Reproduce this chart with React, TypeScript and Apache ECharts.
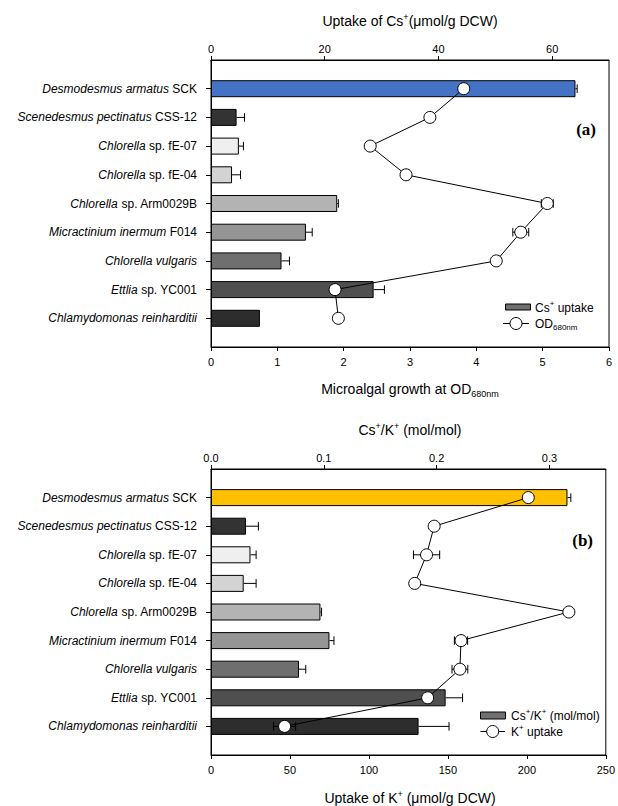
import React, { useEffect, useRef } from 'react';
import * as echarts from 'echarts';

// ---------- data ----------
const speciesItalic = [
  'Desmodesmus armatus',
  'Scenedesmus pectinatus',
  'Chlorella',
  'Chlorella',
  'Chlorella',
  'Micractinium inermum',
  'Chlorella vulgaris',
  'Ettlia',
  'Chlamydomonas reinharditii',
];
const speciesSuffix = ['SCK', 'CSS-12', 'sp. fE-07', 'sp. fE-04', 'sp. Arm0029B', 'F014', '', 'sp. YC001', ''];

// panel (a)
const csUptake = [64.1, 4.5, 4.9, 3.7, 22.2, 16.7, 12.4, 28.6, 8.6];
const csUptakeErr = [0.3, 1.4, 0.8, 1.5, 0.2, 1.1, 1.4, 1.9, 0];
const od680 = [3.81, 3.3, 2.4, 2.94, 5.07, 4.67, 4.3, 1.87, 1.92];
const od680Err = [0, 0, 0, 0, 0.09, 0.12, 0, 0, 0];

// panel (b)
const csKRatio = [0.316, 0.031, 0.035, 0.029, 0.097, 0.105, 0.078, 0.208, 0.184];
const csKRatioErr = [0.003, 0.011, 0.005, 0.011, 0.001, 0.004, 0.006, 0.015, 0.027];
const kUptake = [200.9, 141.3, 136.5, 129.0, 226.6, 158.3, 157.6, 137.2, 46.6];
const kUptakeErr = [0, 0, 8.3, 0, 0, 4.2, 5, 0, 7];

// axis ranges [min, max, interval]
const csAxis = [0, 70, 20];
const odAxis = [0, 6, 1];
const ratioAxis = [0, 0.35, 0.1];
const kAxis = [0, 250, 50];

const barColorsA = ['#4472c4', '#333333', '#efefef', '#d3d3d3', '#b3b3b3', '#959595', '#6f6f6f', '#4f4f4f', '#2d2d2d'];
const barColorsB = ['#ffc000', '#333333', '#efefef', '#d3d3d3', '#b3b3b3', '#959595', '#6f6f6f', '#4f4f4f', '#2d2d2d'];
const legendBarColor = '#707070';

// ---------- helpers ----------
const F = '"Liberation Sans", Arial, Helvetica, sans-serif';
const SERIF = '"Liberation Serif", "Times New Roman", serif';
const categories = ['', ...speciesItalic.map((s, i) => s + ' ' + speciesSuffix[i]), ''];

const GRID_LEFT = 211;
const GRID_WIDTH = 398;

const errRender = (both: boolean) => (params: any, api: any) => {
  const v = api.value(0);
  const idx = api.value(1);
  const e = api.value(2);
  if (!e) return null;
  const p0 = api.coord([both ? v - e : v, idx]);
  const p1 = api.coord([v + e, idx]);
  const h = 4.3;
  const st = { stroke: '#000', lineWidth: 1 };
  const children: any[] = [
    { type: 'line', shape: { x1: p0[0], y1: p0[1], x2: p1[0], y2: p1[1] }, style: st },
    { type: 'line', shape: { x1: p1[0], y1: p1[1] - h, x2: p1[0], y2: p1[1] + h }, style: st },
  ];
  if (both) children.push({ type: 'line', shape: { x1: p0[0], y1: p0[1] - h, x2: p0[0], y2: p0[1] + h }, style: st });
  return { type: 'group', children };
};

const richTitle = {
  a: { fontFamily: F, fontSize: 14, lineHeight: 18, fill: '#000' },
  s: { fontFamily: F, fontSize: 9, lineHeight: 9, verticalAlign: 'top', fill: '#000' },
  b: { fontFamily: F, fontSize: 9, lineHeight: 9, verticalAlign: 'bottom', fill: '#000' },
};
const richLegend = {
  a: { fontFamily: F, fontSize: 12, lineHeight: 16, fill: '#000' },
  s: { fontFamily: F, fontSize: 8, lineHeight: 8, verticalAlign: 'top', fill: '#000' },
  b: { fontFamily: F, fontSize: 8, lineHeight: 8, verticalAlign: 'bottom', fill: '#000' },
};

const txt = (x: number, y: number, text: string, rich: any, align = 'center') => ({
  type: 'text',
  x,
  y,
  style: { text, rich, textAlign: align, textVerticalAlign: 'middle', fill: '#000' },
});

function valueAxis(gi: number, pos: 'top' | 'bottom', ax: number[], fmt?: (v: number) => string) {
  return {
    type: 'value',
    gridIndex: gi,
    position: pos,
    min: ax[0],
    max: ax[1],
    interval: ax[2],
    splitLine: { show: false },
    axisLine: { show: true, lineStyle: { color: '#000', width: 1 } },
    axisTick: { show: true, inside: false, length: 4, lineStyle: { color: '#000' } },
    axisLabel: {
      show: true,
      showMaxLabel: pos === 'bottom',
      margin: pos === 'top' ? 6 : 9,
      fontFamily: F,
      fontSize: 11,
      color: '#000',
      formatter: fmt,
    },
  };
}

function catAxis(gi: number) {
  return {
    type: 'category',
    gridIndex: gi,
    data: categories,
    inverse: true,
    boundaryGap: false,
    axisLine: { show: true, lineStyle: { color: '#000', width: 1 } },
    axisTick: {
      show: true,
      length: 5,
      interval: (index: number) => index >= 1 && index <= 9,
      lineStyle: { color: '#000' },
    },
    splitLine: { show: false },
    axisLabel: {
      interval: 0,
      margin: 14,
      fontFamily: F,
      fontSize: 12,
      color: '#000',
      formatter: (value: string, index: number) => {
        const k = index - 1;
        if (k < 0 || k > 8) return '';
        const it = speciesItalic[k];
        const sf = speciesSuffix[k];
        return sf ? `{i|${it}}{n| ${sf}}` : `{i|${it}}`;
      },
      rich: {
        i: { fontStyle: 'italic', fontFamily: F, fontSize: 12, color: '#000' },
        n: { fontFamily: F, fontSize: 12, color: '#000' },
      },
    },
  };
}

const pad = (vals: number[], colors: string[]) => [
  '-',
  ...vals.map((v, i) => ({ value: v, itemStyle: { color: colors[i], borderColor: '#000', borderWidth: 1 } })),
  '-',
];

function buildPanel(gi: number, barVals: number[], barErr: number[], colors: string[], ptVals: number[], ptErr: number[]) {
  const xTop = gi * 2;
  const xBottom = gi * 2 + 1;
  return [
    {
      type: 'bar',
      xAxisIndex: xTop,
      yAxisIndex: gi,
      barWidth: 17,
      data: pad(barVals, colors),
      z: 2,
    },
    {
      type: 'custom',
      xAxisIndex: xTop,
      yAxisIndex: gi,
      renderItem: errRender(false),
      encode: { x: 0, y: 1 },
      data: barVals.map((v, i) => [v, i + 1, barErr[i]]),
      z: 3,
    },
    {
      type: 'custom',
      xAxisIndex: xBottom,
      yAxisIndex: gi,
      renderItem: errRender(true),
      encode: { x: 0, y: 1 },
      data: ptVals.map((v, i) => [v, i + 1, ptErr[i]]),
      z: 4,
    },
    {
      type: 'line',
      xAxisIndex: xBottom,
      yAxisIndex: gi,
      data: ptVals.map((v, i) => [v, i + 1]),
      symbol: 'circle',
      symbolSize: 12,
      lineStyle: { color: '#000', width: 1 },
      itemStyle: { color: '#fff', borderColor: '#000', borderWidth: 1 },
      z: 5,
    },
  ];
}

export default function App() {
  const ref = useRef<HTMLDivElement>(null);
  useEffect(() => {
    if (!ref.current) return;
    const chart = echarts.init(ref.current, undefined, { renderer: 'svg' });
    const option: any = {
      animation: false,
      backgroundColor: '#fff',
      grid: [
        { left: GRID_LEFT, width: GRID_WIDTH, top: 60, height: 287, show: true, borderColor: '#000', borderWidth: 1, backgroundColor: 'transparent' },
        { left: GRID_LEFT, width: GRID_WIDTH, top: 469, height: 286, show: true, borderColor: '#000', borderWidth: 1, backgroundColor: 'transparent' },
      ],
      xAxis: [
        valueAxis(0, 'top', csAxis),
        valueAxis(0, 'bottom', odAxis),
        valueAxis(1, 'top', ratioAxis, (v: number) => v.toFixed(1)),
        valueAxis(1, 'bottom', kAxis),
      ],
      yAxis: [catAxis(0), catAxis(1)],
      series: [
        ...buildPanel(0, csUptake, csUptakeErr, barColorsA, od680, od680Err),
        ...buildPanel(1, csKRatio, csKRatioErr, barColorsB, kUptake, kUptakeErr),
      ],
      graphic: [
        // axis titles
        txt(410, 21, '{a|Uptake of Cs}{s|+}{a|(μmol/g DCW)}', richTitle),
        txt(410, 389, '{a|Microalgal growth at OD}{b|680nm}', richTitle),
        txt(410, 430, '{a|Cs}{s|+}{a|/K}{s|+}{a| (mol/mol)}', richTitle),
        txt(410, 798, '{a|Uptake of K}{s|+}{a| (μmol/g DCW)}', richTitle),
        // panel labels
        {
          type: 'text', x: 596, y: 129,
          style: { text: '(a)', font: `bold 17px ${SERIF}`, textAlign: 'right', textVerticalAlign: 'middle', fill: '#000' },
        },
        {
          type: 'text', x: 593, y: 540,
          style: { text: '(b)', font: `bold 17px ${SERIF}`, textAlign: 'right', textVerticalAlign: 'middle', fill: '#000' },
        },
        // legend (a)
        { type: 'rect', shape: { x: 505.5, y: 304, width: 25, height: 6 }, style: { fill: legendBarColor, stroke: '#000', lineWidth: 1 } },
        txt(535, 307.5, '{a|Cs}{s|+}{a| uptake}', richLegend, 'left'),
        { type: 'line', shape: { x1: 503, y1: 323.5, x2: 529, y2: 323.5 }, style: { stroke: '#000', lineWidth: 1 } },
        { type: 'circle', shape: { cx: 516, cy: 323.5, r: 6 }, style: { fill: '#fff', stroke: '#000', lineWidth: 1 } },
        txt(535, 323.5, '{a|OD}{b|680nm}', richLegend, 'left'),
        // legend (b)
        { type: 'rect', shape: { x: 480.5, y: 712, width: 25, height: 7 }, style: { fill: legendBarColor, stroke: '#000', lineWidth: 1 } },
        txt(511, 715.5, '{a|Cs}{s|+}{a|/K}{s|+}{a| (mol/mol)}', richLegend, 'left'),
        { type: 'line', shape: { x1: 480.5, y1: 731.5, x2: 505, y2: 731.5 }, style: { stroke: '#000', lineWidth: 1 } },
        { type: 'circle', shape: { cx: 492.7, cy: 731.5, r: 6 }, style: { fill: '#fff', stroke: '#000', lineWidth: 1 } },
        txt(511, 731.5, '{a|K}{s|+}{a| uptake}', richLegend, 'left'),
      ],
    };
    chart.setOption(option);
    return () => chart.dispose();
  }, []);
  return <div ref={ref} style={{ position: 'absolute', left: 0, top: 0, width: 618, height: 806 }} />;
}
